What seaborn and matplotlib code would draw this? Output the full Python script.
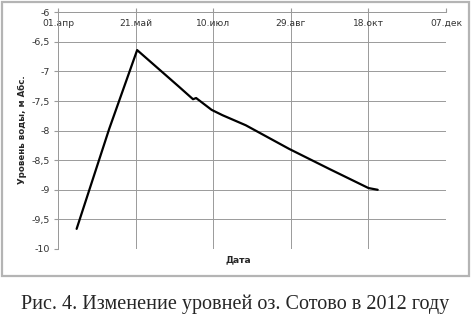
import numpy as np
import pandas as pd
import matplotlib
matplotlib.use('Agg')
import matplotlib.pyplot as plt
import matplotlib.dates as mdates
from matplotlib.patches import Rectangle
from matplotlib.ticker import FuncFormatter, MultipleLocator
import seaborn as sns

# water level readings, 2012
dates = ['2012-04-13', '2012-05-04', '2012-05-22', '2012-06-18', '2012-06-27',
         '2012-06-29', '2012-07-09', '2012-07-16', '2012-07-31', '2012-08-28',
         '2012-09-23', '2012-10-18', '2012-10-24']
levels = [-9.66, -7.97, -6.64, -7.26, -7.47,
          -7.45, -7.65, -7.74, -7.91, -8.31,
          -8.65, -8.97, -9.00]

tick_dates = ['2012-04-01', '2012-05-21', '2012-07-10', '2012-08-29', '2012-10-18', '2012-12-07']
tick_labels = ['01.апр', '21.май', '10.июл', '29.авг', '18.окт', '07.дек']

df = pd.DataFrame({'date': pd.to_datetime(dates), 'level': levels})

sns.set_style('white')
plt.rcParams['font.family'] = ['DejaVu Sans']

fig = plt.figure(figsize=(4.71, 3.21), dpi=100)
ax = fig.add_axes([58 / 471, 1 - 249 / 321, (446 - 58) / 471, (249 - 12.2) / 321])

sns.lineplot(data=df, x='date', y='level', ax=ax, color='black', linewidth=1.6)

ticks = pd.to_datetime(tick_dates)
ax.set_xlim(ticks[0], ticks[-1])
ax.set_xticks(ticks)
ax.set_xticklabels(tick_labels)
ax.set_ylim(-10, -6)
ax.yaxis.set_major_locator(MultipleLocator(0.5))
ax.yaxis.set_major_formatter(FuncFormatter(lambda v, p: ('%g' % v).replace('.', ',')))

ax.grid(True, color='#9a9a9a', linewidth=0.7)
ax.set_axisbelow(True)
for s in ['bottom', 'right']:
    ax.spines[s].set_visible(False)
for s in ['top', 'left']:
    ax.spines[s].set_color('#9a9a9a')
    ax.spines[s].set_linewidth(0.7)

ax.tick_params(axis='x', bottom=False, labelbottom=False, top=True, labeltop=True,
               length=3, color='#9a9a9a', pad=-14.5, labelsize=6.6, labelcolor='#333333')
ax.tick_params(axis='y', left=True, length=3, color='#9a9a9a', pad=3,
               labelsize=6.8, labelcolor='#333333')
ax.set_xlabel('')
ax.set_ylabel('')

fig.text(238 / 471, 1 - 260 / 321, 'Дата', ha='center', va='center', fontsize=6.6, fontweight='bold')
fig.text(22 / 471, 1 - 130 / 321, 'Уровень воды, м Абс.', ha='center', va='center',
         rotation=90, fontsize=6.2, fontweight='bold')

fig.patches.append(Rectangle((1.5 / 471, 1 - 276 / 321), 467 / 471, 274.5 / 321,
                             transform=fig.transFigure, fill=False,
                             edgecolor='#b4b4b4', linewidth=1.6))

fig.text(235 / 471, 1 - 304 / 321, 'Рис. 4. Изменение уровней оз. Сотово в 2012 году',
         ha='center', va='center', fontsize=14.5, family='Liberation Serif')

fig.savefig('out.png', dpi=100)
